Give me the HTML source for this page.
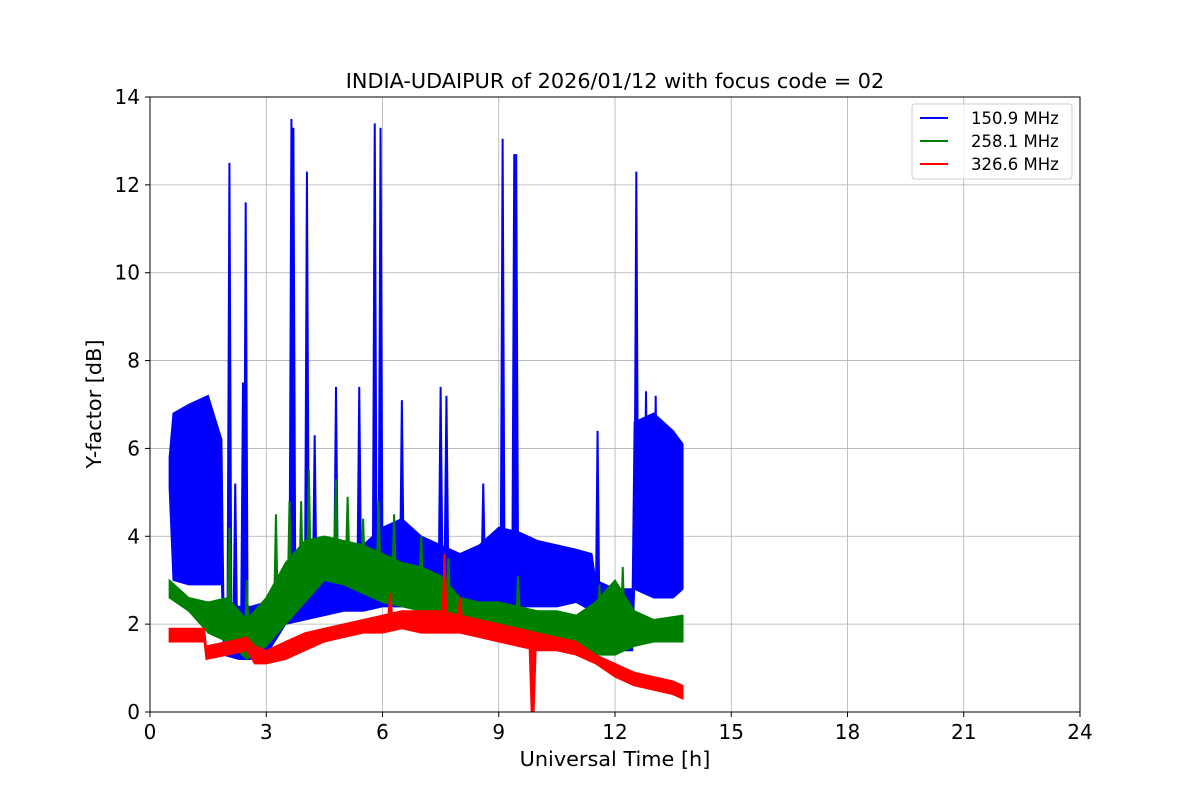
<!DOCTYPE html>
<html><head><meta charset="utf-8"><style>
body{margin:0;background:#fff;}
svg text{font-family:"DejaVu Sans","Liberation Sans",sans-serif;}
</style></head><body>
<svg id="chart" width="1200" height="800" viewBox="0 0 1200 800" xmlns="http://www.w3.org/2000/svg">
<rect width="1200" height="800" fill="#fff"/>
<g id="grid"></g>
<g id="series"></g>
<rect x="150" y="97" width="930" height="615" fill="none" stroke="#000" stroke-width="1"/>
<g id="ticks"></g>
<text x="615" y="88" text-anchor="middle" font-size="20.8">INDIA-UDAIPUR of 2026/01/12 with focus code = 02</text>
<text x="615" y="766" text-anchor="middle" font-size="20.8">Universal Time [h]</text>
<text x="101" y="404" text-anchor="middle" font-size="20.8" transform="rotate(-90 101 404)">Y-factor [dB]</text>
<g>
<rect x="912" y="104" width="160" height="75" rx="3" fill="#fff" fill-opacity="0.8" stroke="#ccc"/>
<g><line x1="920" y1="118" x2="948" y2="118" stroke="blue" stroke-width="2"/><text x="971" y="124" font-size="16.5">150.9 MHz</text></g>
<g><line x1="920" y1="141" x2="948" y2="141" stroke="green" stroke-width="2"/><text x="971" y="147" font-size="16.5">258.1 MHz</text></g>
<g><line x1="920" y1="164" x2="948" y2="164" stroke="red" stroke-width="2"/><text x="971" y="170" font-size="16.5">326.6 MHz</text></g>
</g>
</svg>
<script>
const xTicks=[0,3,6,9,12,15,18,21,24];
const yTicks=[0,2,4,6,8,10,12,14];
const blueT=[0.5,0.6,1.0,1.5,1.85,1.9,2.3,2.6,3.0,3.5,4.0,4.5,5.0,5.5,6.0,6.5,7.0,7.5,8.0,8.5,9.0,9.5,10.0,10.5,11.0,11.4,11.5,12.0,12.45,12.5,13.0,13.5,13.75];
const blueLo=[5.1,3.0,2.9,2.9,2.9,1.3,1.2,1.2,1.3,2.0,2.1,2.2,2.3,2.3,2.4,2.4,2.4,2.5,2.5,2.5,2.3,2.4,2.4,2.4,2.5,2.3,1.4,1.4,1.4,2.8,2.6,2.6,2.8];
const blueHi=[5.8,6.8,7.0,7.2,6.2,2.5,2.4,2.4,2.5,3.2,3.6,3.5,3.7,3.8,4.2,4.4,4.0,3.8,3.6,3.8,4.2,4.1,3.9,3.8,3.7,3.6,3.0,2.8,2.8,6.6,6.8,6.4,6.1];
const blueSpikeT=[2.05,2.2,2.4,2.47,3.65,3.7,4.05,4.25,4.8,5.4,5.8,5.95,6.5,7.5,7.65,8.6,9.1,9.4,9.45,11.55,12.55,12.8,13.05];
const blueSpikeV=[12.5,5.2,7.5,11.6,13.5,13.3,12.3,6.3,7.4,7.4,13.4,13.3,7.1,7.4,7.2,5.2,13.05,12.7,12.7,6.4,12.3,7.3,7.2];
const greenT=[0.5,1.0,1.5,2.0,2.5,3.0,3.5,4.0,4.5,5.0,5.5,6.0,6.5,7.0,7.5,8.0,8.5,9.0,9.5,10.0,10.5,11.0,11.5,12.0,12.5,13.0,13.75];
const greenLo=[2.6,2.3,1.8,1.6,1.2,1.5,2.0,2.5,3.0,2.9,2.7,2.5,2.4,2.3,2.1,2.0,1.9,1.8,1.7,1.6,1.6,1.5,1.3,1.3,1.5,1.6,1.6];
const greenHi=[3.0,2.6,2.5,2.6,2.1,2.6,3.4,3.9,4.0,3.9,3.8,3.6,3.4,3.3,3.1,2.6,2.5,2.5,2.4,2.3,2.3,2.2,2.5,3.0,2.3,2.1,2.2];
const greenSpikeT=[2.05,2.5,3.25,3.6,3.9,4.1,4.8,5.1,5.5,5.9,6.3,7.0,7.7,9.5,11.6,12.2];
const greenSpikeV=[4.2,3.0,4.5,4.8,4.8,5.5,5.3,4.9,4.4,4.8,4.5,4.0,3.5,3.1,2.9,3.3];
const redT=[0.5,1.4,1.45,2.0,2.5,2.7,3.0,3.5,4.0,4.5,5.0,5.5,6.0,6.5,7.0,7.5,8.0,8.5,9.0,9.5,10.0,10.5,11.0,11.5,12.0,12.5,13.0,13.5,13.75];
const redLo=[1.6,1.6,1.2,1.3,1.4,1.1,1.1,1.2,1.4,1.6,1.7,1.8,1.8,1.9,1.8,1.8,1.8,1.7,1.6,1.5,1.4,1.4,1.3,1.1,0.8,0.6,0.5,0.4,0.3];
const redHi=[1.9,1.9,1.5,1.6,1.7,1.5,1.4,1.6,1.8,1.9,2.0,2.1,2.2,2.3,2.3,2.3,2.2,2.1,2.0,1.9,1.8,1.7,1.6,1.3,1.1,0.9,0.8,0.7,0.6];
const redSpikeT=[6.2,7.6,8.0,9.85,9.9];
const redSpikeV=[2.7,3.6,2.6,0.0,0.0];

const X=t=>150+t*930/24, Y=v=>712-v*615/14;
const NS='http://www.w3.org/2000/svg';
function mk(tag,attrs,parent){const e=document.createElementNS(NS,tag);for(const k in attrs)e.setAttribute(k,attrs[k]);parent.appendChild(e);return e;}
const grid=document.getElementById('grid'),ticks=document.getElementById('ticks'),ser=document.getElementById('series');
xTicks.forEach(t=>{
 const l=mk('line',{x1:X(t),x2:X(t),y1:97,y2:712,stroke:'#b0b0b0','stroke-width':0.8},grid);
 
 
 mk('line',{x1:X(t),x2:X(t),y1:712,y2:717,stroke:'#000'},ticks);
 const tx=mk('text',{x:X(t),y:739,'text-anchor':'middle','font-size':20},ticks);tx.textContent=t;
 
 
});
yTicks.forEach(v=>{
 const l=mk('line',{x1:150,x2:1080,y1:Y(v),y2:Y(v),stroke:'#b0b0b0','stroke-width':0.8},grid);
 
 
 mk('line',{x1:145,x2:150,y1:Y(v),y2:Y(v),stroke:'#000'},ticks);
 const tx=mk('text',{x:140,y:Y(v)+7,'text-anchor':'end','font-size':20},ticks);tx.textContent=v;
 
 
});
function band(T,lo,hi,sT,sV,color,name){
 const g=mk('g',{},ser);
 
 
 let pts=T.map((t,i)=>X(t)+','+Y(hi[i]));
 for(let i=T.length-1;i>=0;i--)pts.push(X(T[i])+','+Y(lo[i]));
 mk('polygon',{points:pts.join(' '),fill:color,stroke:color,'stroke-width':1.5},g);
 function interp(t,arr){for(let i=0;i<T.length-1;i++){if(t>=T[i]&&t<=T[i+1]){const f=(t-T[i])/(T[i+1]-T[i]);return arr[i]+f*(arr[i+1]-arr[i]);}}return arr[0];}
 sT.forEach((t,i)=>{
  const base=sV[i]<interp(t,lo)?interp(t,lo):interp(t,lo)+0.3;
  const s=mk('polygon',{points:`${X(t)-2},${Y(base)} ${X(t)},${Y(sV[i])} ${X(t)+2},${Y(base)}`,fill:color,stroke:color,'stroke-width':2},g);
  
  
 });
}
band(blueT,blueLo,blueHi,blueSpikeT,blueSpikeV,'blue','series-150-9-mhz');
band(greenT,greenLo,greenHi,greenSpikeT,greenSpikeV,'green','series-258-1-mhz');
band(redT,redLo,redHi,redSpikeT,redSpikeV,'red','series-326-6-mhz');
</script>
</body></html>
